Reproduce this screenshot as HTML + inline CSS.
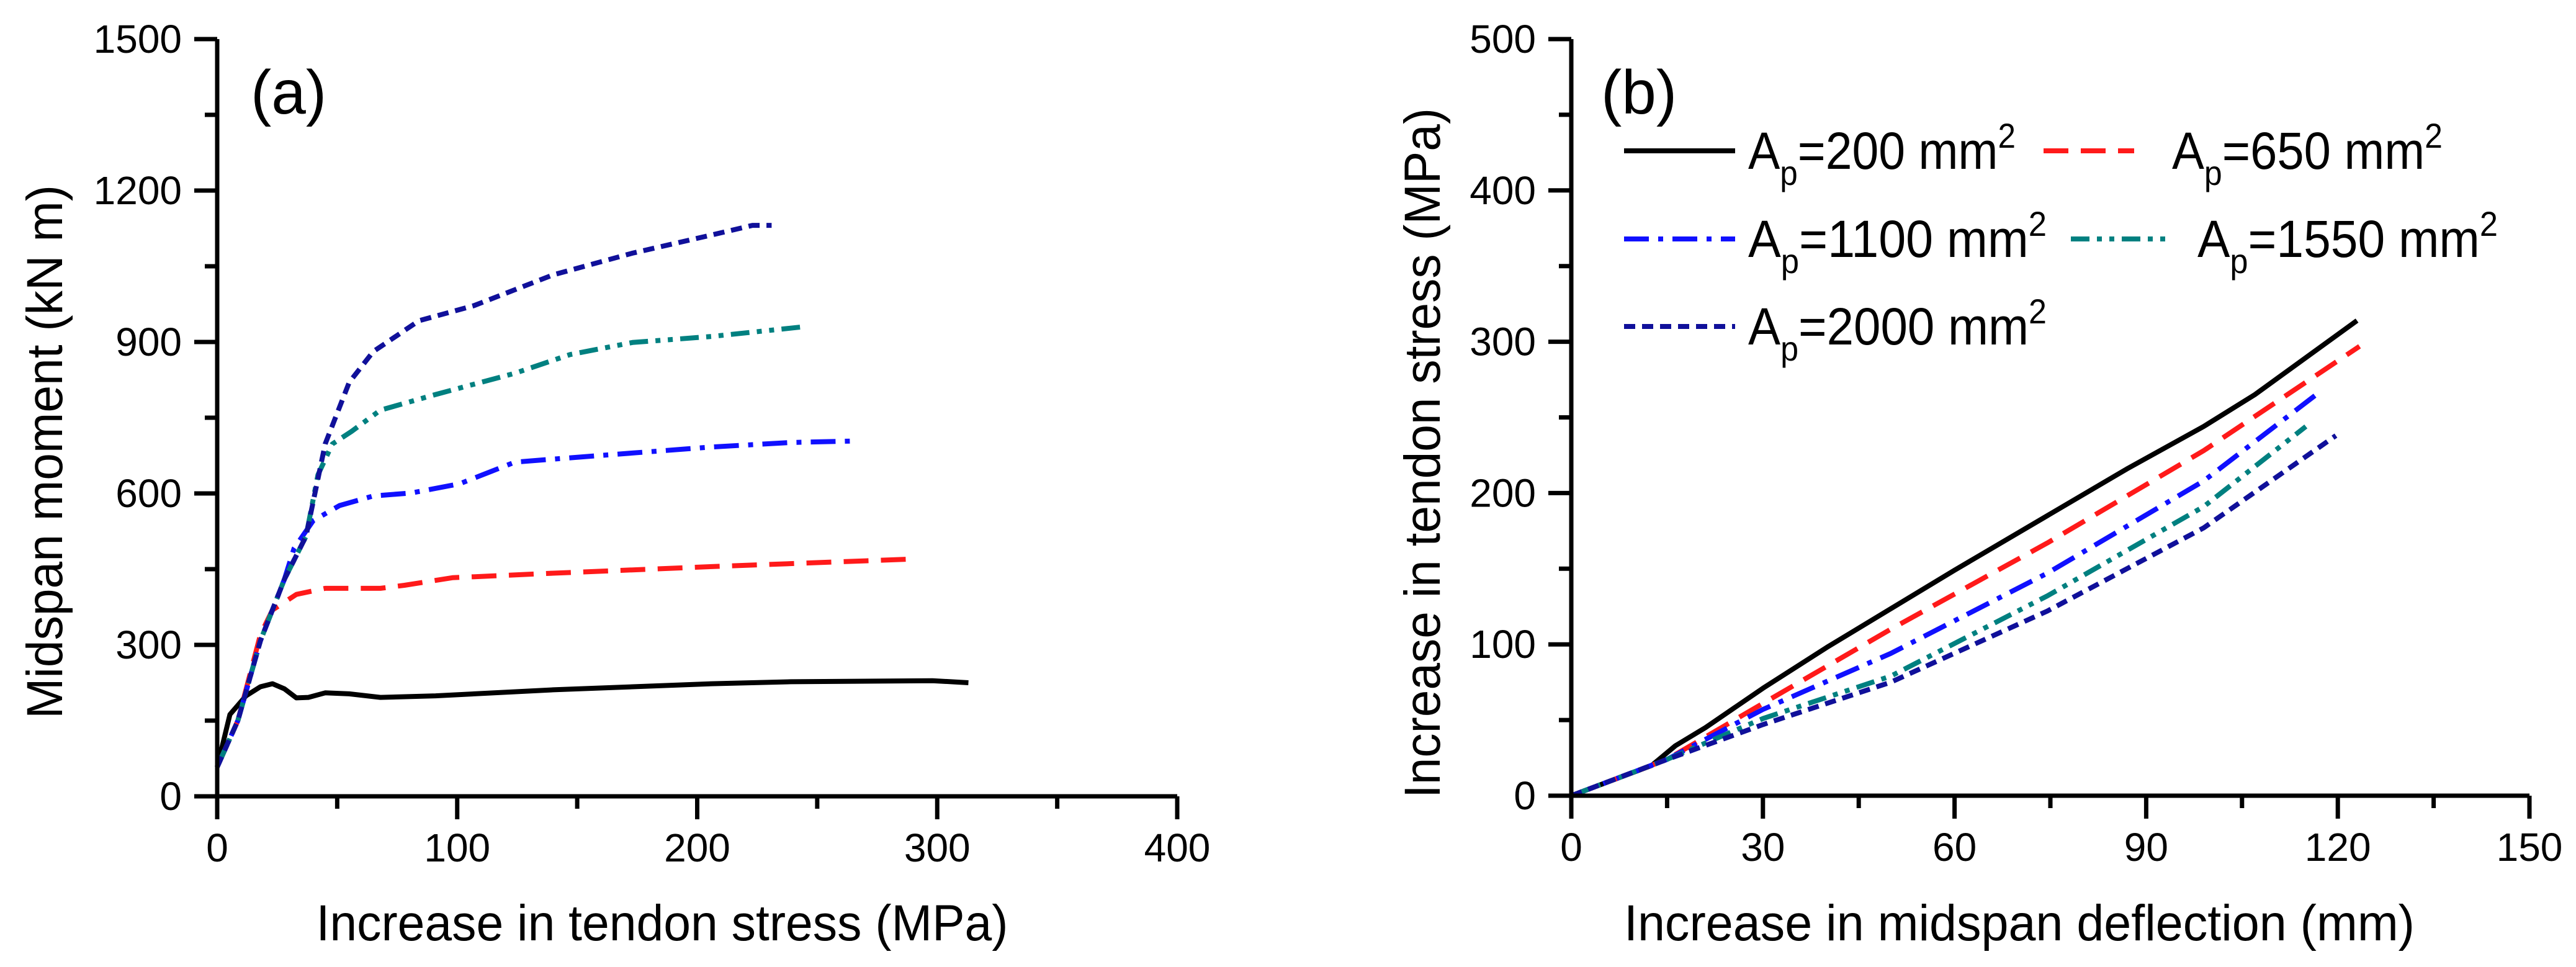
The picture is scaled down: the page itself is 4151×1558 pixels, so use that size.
<!DOCTYPE html>
<html><head><meta charset="utf-8"><style>
html,body{margin:0;padding:0;background:#fff;}
svg{display:block;font-family:"Liberation Sans",sans-serif;}
</style></head>
<body>
<svg id="chart" width="4151" height="1558" viewBox="0 0 4151 1558" xmlns="http://www.w3.org/2000/svg">
<rect width="4151" height="1558" fill="#fff"/>
<g id="pa"></g>
<g id="pb"></g>
</svg>
<script>
// Panel (a) data
const aSeriesNames = ["Ap=200 mm2","Ap=650 mm2","Ap=1100 mm2","Ap=1550 mm2","Ap=2000 mm2"];
const aXTicks = [0,100,200,300,400];
const aYTicks = [0,300,600,900,1200,1500];
const a200x = [0,5.3,12,18,23,28,33,38,45,55,68,91,140,206,239,298,313];
const a200y = [58,162,199,217,223,213,195,196,205,203,196,199,211,223,227,229,225];
const a650x = [0,8.6,18,23,33,45,68,78,98,140,206,256,290];
const a650y = [58,150,320,369,400,412,412,418,433,442,455,464,470];
const a1100x = [0,8.6,18,28,32,40,51,65,81,101,124,140,173,206,239,267];
const a1100y = [58,150,308,430,491,546,576,595,601,619,662,668,680,692,701,704];
const a1550x = [0,8.6,18,28,37,42,48,56,68,91,124,147,173,206,244];
const a1550y = [58,150,308,430,515,637,698,723,765,796,838,875,899,911,930];
const a2000x = [0,8.6,18,28,37,45,55,65,84,107,140,173,206,223,231];
const a2000y = [58,150,308,430,515,698,820,881,942,972,1033,1076,1112,1131,1131];
// Panel (b) data
const bXTicks = [0,30,60,90,120,150];
const bYTicks = [0,100,200,300,400,500];
const b200x = [0,12.6,16.3,21,30,40,60,87,99,107,123];
const b200y = [0,20,33,45,71,98,149,216,244,265,314];
const b650x = [0,15,30,50,74.5,99,123.4];
const b650y = [0,24,61,110,167,228,297];
const b1100x = [0,15,30,50,74.5,99,116.6];
const b1100y = [0,24,57,94,147,208,265];
const b1550x = [0,15,30,50,74.5,99,115];
const b1550y = [0,24,51,79,132,191,244];
const b2000x = [0,15,30,50,74.5,99,119.7];
const b2000y = [0,24,47,75,122,177,238];

const NS="http://www.w3.org/2000/svg";
function mk(tag,attrs,parent){const e=document.createElementNS(NS,tag);for(const k in attrs)e.setAttribute(k,attrs[k]);parent.appendChild(e);return e;}
const styles=[
 {c:"#000000",d:""},
 {c:"#ff1a1a",d:"40,20"},
 {c:"#1010ff",d:"40,15,8,15"},
 {c:"#008080",d:"30,12,8,12,8,12"},
 {c:"#10109a",d:"18,11"}];

function panel(g,cfg){
  const sx=v=>cfg.x0+(v-cfg.xmin)/(cfg.xmax-cfg.xmin)*(cfg.x1-cfg.x0);
  const sy=v=>cfg.y0-(v-cfg.ymin)/(cfg.ymax-cfg.ymin)*(cfg.y0-cfg.y1);
  cfg.series.forEach((s,i)=>{
    const d=s.x.map((v,j)=>(j?"L":"M")+sx(v).toFixed(1)+","+sy(s.y[j]).toFixed(1)).join(" ");
    const p=mk("path",{d:d,fill:"none",stroke:styles[i].c,"stroke-width":8,"stroke-linejoin":"round"},g);
    if(styles[i].d)p.setAttribute("stroke-dasharray",styles[i].d);
    
    
  });
  const ax=mk("path",{d:`M${cfg.x0},${cfg.y1} L${cfg.x0},${cfg.y0} L${cfg.x1},${cfg.y0}`,fill:"none",stroke:"#000","stroke-width":7},g);
  
  
  const xs=cfg.xt, ys=cfg.yt;
  for(let i=0;i<xs.length;i++){
    const X=sx(xs[i]);
    const t=mk("line",{x1:X,x2:X,y1:cfg.y0,y2:cfg.y0+37,stroke:"#000","stroke-width":7},g);
    
    
    const l=mk("text",{x:X,y:cfg.y0+105,"font-size":64,"text-anchor":"middle"},g);l.textContent=xs[i];
    
    
    if(i<xs.length-1){const m=sx((xs[i]+xs[i+1])/2);
      const mt=mk("line",{x1:m,x2:m,y1:cfg.y0,y2:cfg.y0+20,stroke:"#000","stroke-width":7},g);
      
      }
  }
  for(let i=0;i<ys.length;i++){
    const Y=sy(ys[i]);
    const t=mk("line",{x1:cfg.x0-37,x2:cfg.x0,y1:Y,y2:Y,stroke:"#000","stroke-width":7},g);
    
    
    const l=mk("text",{x:cfg.x0-57,y:Y+22,"font-size":64,"text-anchor":"end"},g);l.textContent=ys[i];
    
    
    if(i<ys.length-1){const m=sy((ys[i]+ys[i+1])/2);
      const mt=mk("line",{x1:cfg.x0-20,x2:cfg.x0,y1:m,y2:m,stroke:"#000","stroke-width":7},g);
      
      }
  }
  const xt=mk("text",{x:cfg.xtx,y:1515,"font-size":82,"text-anchor":"middle",textLength:cfg.xtl,lengthAdjust:"spacingAndGlyphs"},g);
  xt.textContent=cfg.xtitle;
  
  
  const yt=mk("text",{x:0,y:0,"font-size":82,"text-anchor":"middle",textLength:cfg.ytl,lengthAdjust:"spacingAndGlyphs",transform:`translate(${cfg.ytx},${cfg.yty}) rotate(-90)`},g);
  yt.textContent=cfg.ytitle;
  
  
  const pl=mk("text",{x:cfg.lx,y:183,"font-size":100},g);pl.textContent=cfg.label;
  
  
}

panel(document.getElementById("pa"),{x0:350,x1:1897,y0:1283,y1:63,xmin:0,xmax:400,ymin:0,ymax:1500,
  xt:aXTicks,yt:aYTicks,xtitle:"Increase in tendon stress (MPa)",xtx:1067,xtl:1115,
  ytitle:"Midspan moment (kN m)",ytx:100,yty:728,ytl:860,label:"(a)",lx:404,
  series:[{name:"curve-ap-200",x:a200x,y:a200y},{name:"curve-ap-650",x:a650x,y:a650y},{name:"curve-ap-1100",x:a1100x,y:a1100y},{name:"curve-ap-1550",x:a1550x,y:a1550y},{name:"curve-ap-2000",x:a2000x,y:a2000y}]});

panel(document.getElementById("pb"),{x0:2532,x1:4076,y0:1282,y1:63,xmin:0,xmax:150,ymin:0,ymax:500,
  xt:bXTicks,yt:bYTicks,xtitle:"Increase in midspan deflection (mm)",xtx:3254,xtl:1274,
  ytitle:"Increase in tendon stress (MPa)",ytx:2320,yty:730,ytl:1112,label:"(b)",lx:2580,
  series:[{name:"curve-ap-200",x:b200x,y:b200y},{name:"curve-ap-650",x:b650x,y:b650y},{name:"curve-ap-1100",x:b1100x,y:b1100y},{name:"curve-ap-1550",x:b1550x,y:b1550y},{name:"curve-ap-2000",x:b2000x,y:b2000y}]});

// legend
const legendLabels=["200","650","1100","1550","2000"];
const lg=mk("g",{},document.getElementById("pb"));


const pos=[[2617,243,2817,431],[3293,243,3500,436],[2617,385,2817,481],[3337,385,3541,484],[2617,526,2817,481]];
const lineLen=[179,146,179,159,179];
legendLabels.forEach((lab,i)=>{
  const [lx,ly,tx,tl]=pos[i];
  const ln=mk("line",{x1:lx,x2:lx+lineLen[i],y1:ly,y2:ly,stroke:styles[i].c,"stroke-width":8},lg);
  if(styles[i].d)ln.setAttribute("stroke-dasharray",styles[i].d);
  
  
  const t=mk("text",{x:tx,y:ly+29,"font-size":84,textLength:tl,lengthAdjust:"spacingAndGlyphs"},lg);
  t.innerHTML=`A<tspan font-size="56" dy="26">p</tspan><tspan dy="-26">=${lab} mm</tspan><tspan font-size="56" dy="-34">2</tspan>`;
  
  
});
</script>
</body></html>
